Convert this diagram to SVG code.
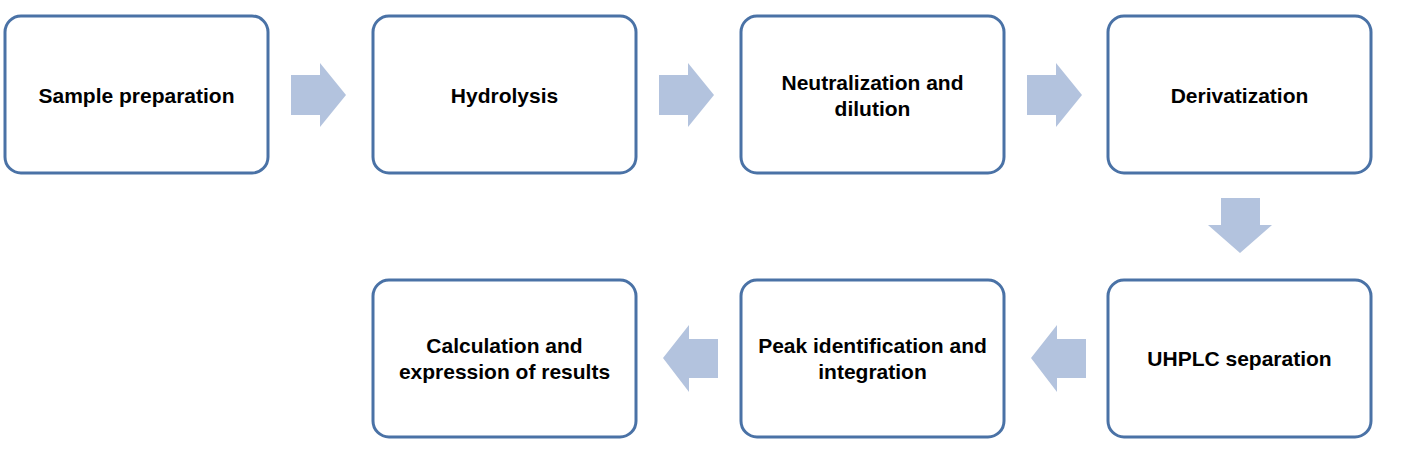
<svg xmlns="http://www.w3.org/2000/svg" width="1419" height="452" viewBox="0 0 1419 452">
<style>
.box{fill:#fff;stroke:#4A72A6;stroke-width:3}
.arr{fill:#B3C3DE}
text{font-family:"Liberation Sans",Arial,sans-serif;font-weight:bold;font-size:21px;fill:#000;text-anchor:middle;dominant-baseline:central}
</style>
<rect width="1419" height="452" fill="#fff"/>
<g id="n1"><rect class="box" x="5" y="16" width="263" height="157" rx="16"/><text x="136.5" y="95">Sample preparation</text></g>
<g id="n2"><rect class="box" x="373" y="16" width="263" height="157" rx="16"/><text x="504.5" y="95">Hydrolysis</text></g>
<g id="n3"><rect class="box" x="741" y="16" width="263" height="157" rx="16"/><text x="872.5" y="82">Neutralization and</text><text x="872.5" y="108">dilution</text></g>
<g id="n4"><rect class="box" x="1108" y="16" width="263" height="157" rx="16"/><text x="1239.5" y="95">Derivatization</text></g>
<g id="n5"><rect class="box" x="1108" y="280" width="263" height="157" rx="16"/><text x="1239.5" y="358">UHPLC separation</text></g>
<g id="n6"><rect class="box" x="741" y="280" width="263" height="157" rx="16"/><text x="872.5" y="345">Peak identification and</text><text x="872.5" y="371">integration</text></g>
<g id="n7"><rect class="box" x="373" y="280" width="263" height="157" rx="16"/><text x="504.5" y="345">Calculation and</text><text x="504.5" y="371">expression of results</text></g>
<g id="connectors">
<polygon class="arr" points="291,75 320,75 320,63 346,95 320,127 320,115 291,115"/>
<polygon class="arr" points="659,75 688,75 688,63 714,95 688,127 688,115 659,115"/>
<polygon class="arr" points="1027,75 1056,75 1056,63 1082,95 1056,127 1056,115 1027,115"/>
<polygon class="arr" points="1221,198 1260,198 1260,225 1272,225 1240,253 1208,225 1221,225"/>
<polygon class="arr" points="1086,339 1057,339 1057,325 1031,358 1057,392 1057,378 1086,378"/>
<polygon class="arr" points="718,339 689,339 689,325 663,358 689,392 689,378 718,378"/>
</g>
</svg>
